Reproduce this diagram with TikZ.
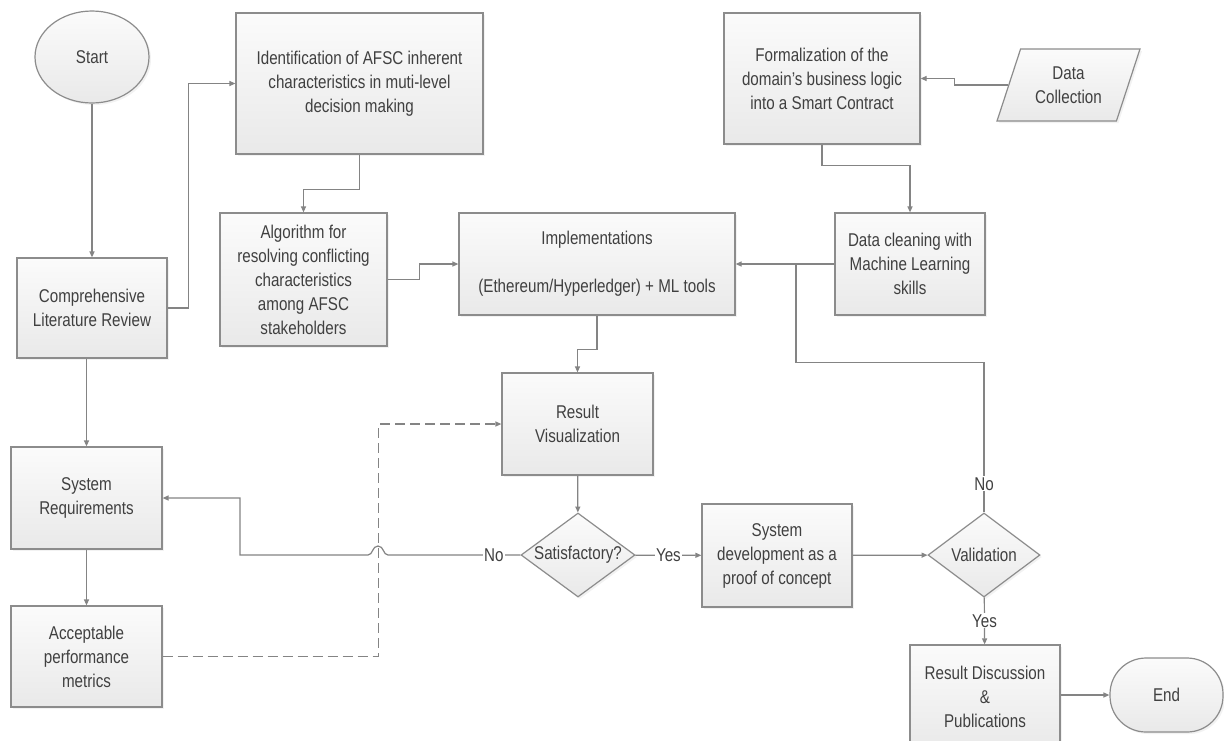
\documentclass[tikz,border=0pt]{standalone}
\usepackage{fontspec}
\setmainfont{Liberation Sans}[FakeStretch=0.82]
\usetikzlibrary{shapes.geometric,arrows.meta,shadows}
\definecolor{linegray}{HTML}{848484}
\definecolor{edgegray}{HTML}{8C8C8C}
\definecolor{boxtop}{HTML}{FBFBFB}
\definecolor{boxbot}{HTML}{E9E9E9}
\definecolor{txtgray}{HTML}{404040}

\begin{document}
\begin{tikzpicture}[x=1pt,y=-1pt,
  font=\fontsize{18.5}{24}\selectfont, text=txtgray,
  box/.style={draw=edgegray, line width=1.2pt, top color=boxtop, bottom color=boxbot,
    align=center, inner sep=2pt, drop shadow={opacity=0.1,shadow xshift=2pt,shadow yshift=-2pt}},
  link/.style={draw=linegray, line width=1.2pt},
  arr/.style={link, -{Triangle[length=6pt,width=5pt]}},
  lbl/.style={fill=white, inner sep=1pt}]
\useasboundingbox[fill=white] (0,0) rectangle (1224,740);

% left column
\node[box, ellipse, minimum width=114, minimum height=92] (start) at (92,57) {Start};
\node[box, minimum width=150, minimum height=100] (lit) at (92,308) {Comprehensive\\Literature Review};
\node[box, minimum width=151, minimum height=102] (sysreq) at (86.5,498) {System\\Requirements};
\node[box, minimum width=151, minimum height=101] (accept) at (86.5,656.5) {Acceptable\\performance\\metrics};

% middle
\node[box, minimum width=247, minimum height=141] (ident) at (359.5,83.5) {Identification of AFSC inherent\\characteristics in muti-level\\decision making};
\node[box, minimum width=167, minimum height=133] (algo) at (303.5,279.5) {Algorithm for\\resolving conflicting\\characteristics\\among AFSC\\stakeholders};
\node[box, minimum width=276, minimum height=102] (impl) at (597,264) {Implementations\\[24pt](Ethereum/Hyperledger) + ML tools};
\node[box, minimum width=151, minimum height=102] (resv) at (577.5,424) {Result\\Visualization};
\node[box, diamond, minimum width=114, minimum height=84, inner sep=0pt, label=center:Satisfactory?] (satis) at (578,555) {};
\node[box, minimum width=150, minimum height=103] (sysdev) at (777,555.5) {System\\development as a\\proof of concept};

% right
\node[box, minimum width=196, minimum height=131] (formal) at (822,78.5) {Formalization of the\\domain's business logic\\into a Smart Contract};
\node[box, trapezium, trapezium left angle=67, trapezium right angle=113, trapezium stretches=true,
  minimum width=143, minimum height=72] (dcol) at (1068.5,85) {Data\\Collection};
\node[box, minimum width=150, minimum height=102] (clean) at (910,264) {Data cleaning with\\Machine Learning\\skills};
\node[box, diamond, minimum width=112, minimum height=84, inner sep=0pt, label=center:Validation] (valid) at (984,555) {};
\node[box, minimum width=150, minimum height=104] (resdisc) at (985,697) {Result Discussion\\\&\\Publications};
\node[box, rounded corners=36pt, minimum width=113, minimum height=74] (endn) at (1166.5,695) {End};

\coordinate (merge) at (796,264);

% connectors
\draw[arr] (start) -- (lit);
\draw[arr] (lit.east) -- ++(21,0) |- (ident.west);
\draw[arr] (ident.south) -- ++(0,35) -| (algo.north);
\draw[arr] (algo.east) -- ++(32,0) |- (impl.west);
\draw[arr] (impl.south) -- ++(0,34) -| (resv.north);
\draw[arr] (dcol.west) -- ++(-54,0) |- (formal.east);
\draw[arr] (formal.south) -- ++(0,21) -| (clean.north);
\draw[arr] (clean.west) -- (impl.east);
\draw[arr] (resv) -- (satis);
\draw[arr] (satis) -- node[lbl]{Yes} (sysdev);
\draw[arr] (sysdev) -- (valid);
\draw[arr] (valid) -- node[lbl]{Yes} (resdisc);
\draw[arr] (resdisc.east |- endn.west) -- (endn.west);
\draw[arr] (sysreq.north |- lit.south) -- (sysreq);
\draw[arr] (sysreq) -- (accept);
\draw[arr, dash pattern=on 10pt off 5pt] (accept.east) -- ++(216,0) |- (resv.west);
\draw[arr] (satis.west) -- node[lbl,pos=0.2]{No} (388,555)
  .. controls (383,555) and (384,546) .. (378,546)
  .. controls (372,546) and (373,555) .. (368,555) -- (240,555) |- (sysreq.east);
\draw[link] (valid.north) -- node[lbl,pos=0.19]{No} ++(0,-150) -| (merge);
\end{tikzpicture}
\end{document}
